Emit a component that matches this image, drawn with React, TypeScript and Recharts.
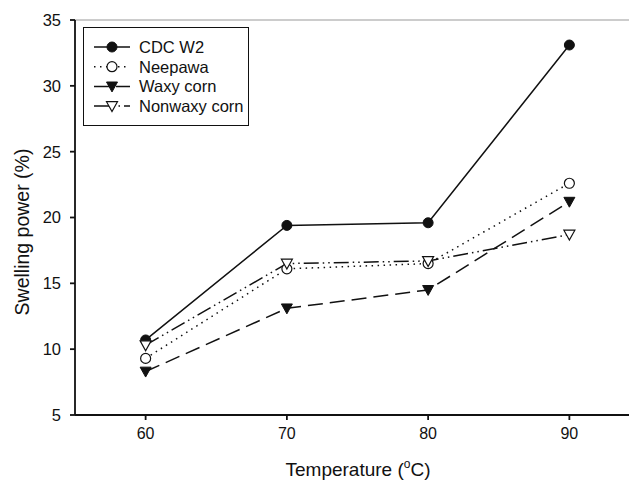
import { LineChart, Line, XAxis, YAxis, ReferenceLine } from "recharts";

const temps = [60, 70, 80, 90];
const cdcW2 = [10.7, 19.4, 19.6, 33.1];
const neepawa = [9.3, 16.1, 16.5, 22.6];
const waxyCorn = [8.3, 13.1, 14.5, 21.2];
const nonwaxyCorn = [10.3, 16.5, 16.7, 18.7];
const xTicks = [60, 70, 80, 90];
const yTicks = [5, 10, 15, 20, 25, 30, 35];

const data = temps.map((t, i) => ({
  t,
  cdc: cdcW2[i],
  neepawa: neepawa[i],
  waxy: waxyCorn[i],
  nonwaxy: nonwaxyCorn[i],
}));

const FONT = "'Liberation Sans', Arial, sans-serif";
const INK = "#111";

type Kind = "circle" | "openCircle" | "tri" | "openTri";

function Marker({ kind, cx, cy }: { kind: Kind; cx: number; cy: number }) {
  if (kind === "circle") return <circle cx={cx} cy={cy} r={5} fill={INK} stroke={INK} />;
  if (kind === "openCircle") return <circle cx={cx} cy={cy} r={5} fill="#fff" stroke={INK} strokeWidth={1.2} />;
  const s = 5.5;
  const pts = `${cx - s},${cy - s * 0.8} ${cx + s},${cy - s * 0.8} ${cx},${cy + s}`;
  if (kind === "tri") return <polygon points={pts} fill={INK} stroke={INK} />;
  return <polygon points={pts} fill="#fff" stroke={INK} strokeWidth={1.2} />;
}

const dotFor = (kind: Kind) => (props: any) => (
  <Marker key={`${kind}-${props.index}`} kind={kind} cx={props.cx} cy={props.cy} />
);

const series = [
  { key: "cdc", name: "CDC W2", kind: "circle" as Kind, dash: undefined as string | undefined },
  { key: "neepawa", name: "Neepawa", kind: "openCircle" as Kind, dash: "1.5 4.5" },
  { key: "waxy", name: "Waxy corn", kind: "tri" as Kind, dash: "15 7" },
  { key: "nonwaxy", name: "Nonwaxy corn", kind: "openTri" as Kind, dash: "15 4 1.5 4 1.5 4" },
];

function LegendBox() {
  return (
    <div
      style={{
        position: "absolute",
        left: 83,
        top: 27,
        width: 166,
        height: 99,
        border: `1.5px solid ${INK}`,
        background: "#fff",
        boxSizing: "border-box",
      }}
    >
      <svg width={163} height={96} style={{ display: "block" }}>
        {series.map((s, i) => {
          const y = 19 + i * 19.7;
          return (
            <g key={s.key}>
              <line x1={10} x2={46} y1={y} y2={y} stroke={INK} strokeWidth={1.5} strokeDasharray={s.dash} />
              <Marker kind={s.kind} cx={28} cy={y} />
              <text x={55} y={y + 6} fontSize={16.5} fill={INK} fontFamily={FONT}>
                {s.name}
              </text>
            </g>
          );
        })}
      </svg>
    </div>
  );
}

export default function App() {
  return (
    <div
      style={{
        position: "fixed",
        top: 0,
        left: 0,
        width: 629,
        height: 481,
        overflow: "hidden",
        background: "#fff",
      }}
    >
      <LineChart width={640} height={481} data={data} margin={{ top: 20, right: 0, left: 0, bottom: 0 }}>
        <XAxis
          dataKey="t"
          type="number"
          domain={[55, 95]}
          ticks={xTicks}
          height={66}
          allowDataOverflow
          stroke={INK}
          strokeWidth={1.8}
          tickSize={5}
          tickMargin={8}
          tick={{ fill: INK, fontSize: 16, fontFamily: FONT }}
          label={{
            content: () => (
              <text x={358} y={476} textAnchor="middle" fontSize={19} fill={INK} fontFamily={FONT}>
                Temperature (
                <tspan fontSize={12} dy={-8}>o</tspan>
                <tspan dy={8}>C)</tspan>
              </text>
            ),
          }}
        />
        <YAxis
          type="number"
          domain={[5, 35]}
          ticks={yTicks}
          width={75}
          stroke={INK}
          strokeWidth={1.8}
          tickSize={5}
          tickMargin={9}
          tick={{ fill: INK, fontSize: 16.5, fontFamily: FONT }}
          label={{
            content: () => (
              <text
                x={29}
                y={232}
                transform="rotate(-90 29 232)"
                textAnchor="middle"
                fontSize={19.5}
                fill={INK}
                fontFamily={FONT}
              >
                Swelling power (%)
              </text>
            ),
          }}
        />
        <ReferenceLine y={35} stroke="#999" strokeWidth={1} />
        {series.map((s) => (
          <Line
            key={s.key}
            dataKey={s.key}
            name={s.name}
            stroke={INK}
            strokeWidth={1.5}
            strokeDasharray={s.dash}
            dot={dotFor(s.kind)}
            activeDot={false}
            isAnimationActive={false}
          />
        ))}
      </LineChart>
      <LegendBox />
    </div>
  );
}
